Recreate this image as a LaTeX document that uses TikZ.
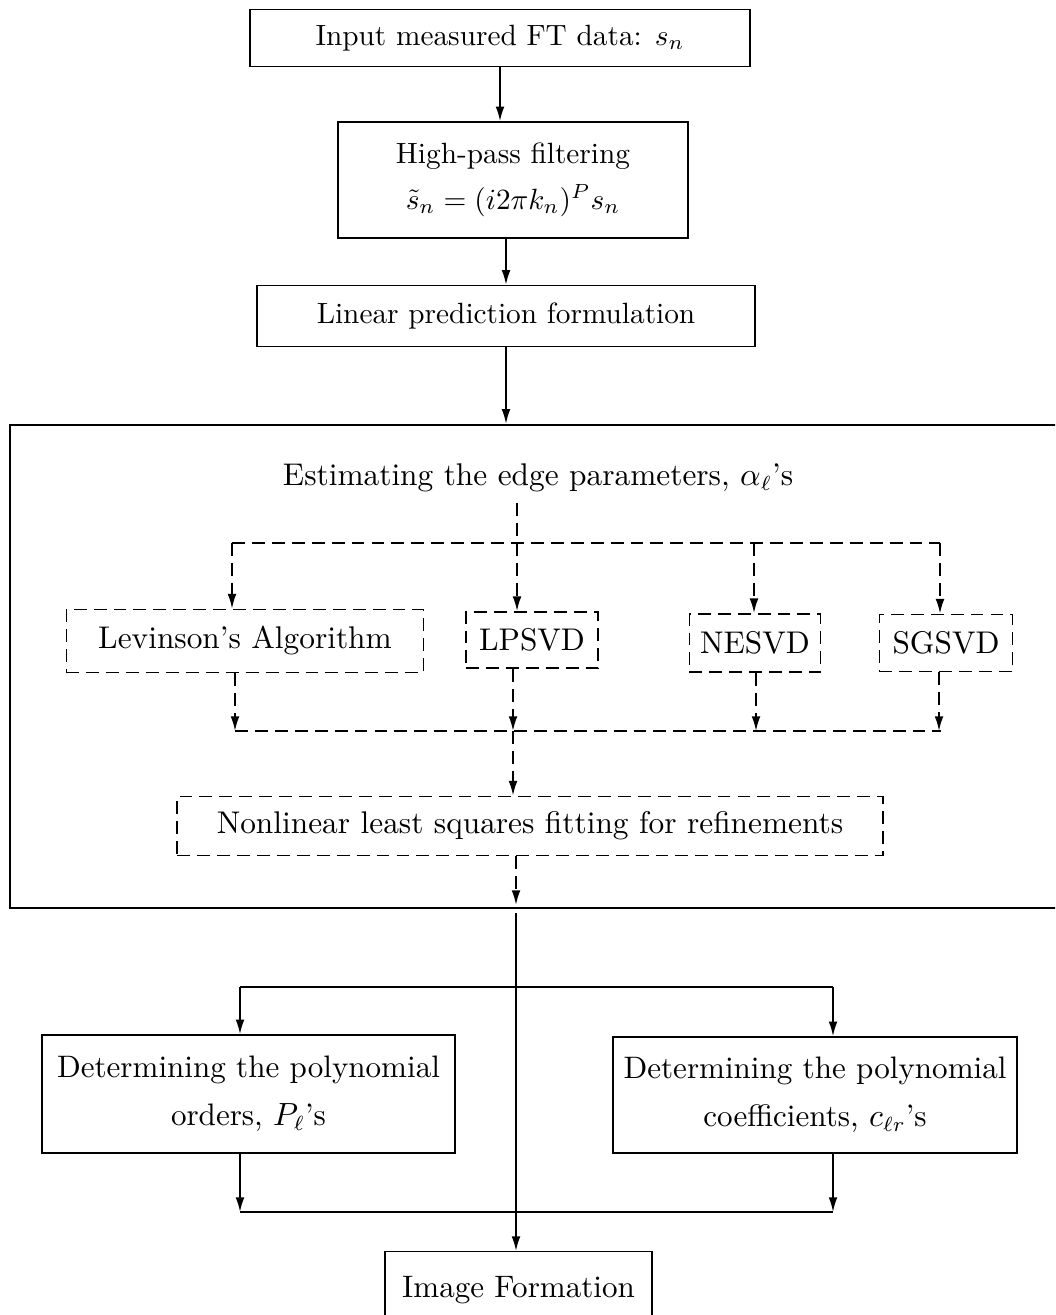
\documentclass[tikz,border=0pt]{standalone}
\usepackage{amsmath,amssymb}
\usetikzlibrary{arrows.meta}

\begin{document}
\begin{tikzpicture}[x=0.012cm,y=-0.012cm,>={Latex[length=5pt,width=3pt]},line width=.6pt,
  box/.style={draw,line width=.5pt,align=center,inner sep=0pt},
  dsh/.style={dash pattern=on 4.4pt off 2.4pt},
  inner/.style={font=\fontsize{10.7}{13}\selectfont},
  lower/.style={font=\fontsize{10.6}{13}\selectfont},
  dbox/.style={draw,dsh,line width=.6pt,inner sep=0pt,inner}]
\useasboundingbox (0,0) rectangle (1055,1315);\clip (0,0) rectangle (1055,1315);
\node[box,minimum width=6cm,minimum height=.684cm] (input) at (500,38) {Input measured FT data: $s_n$};
\node[box,minimum width=4.2cm,minimum height=1.392cm] (hpf) at (513,180) {High-pass filtering\\[3.5pt] $\tilde{s}_n=(i2\pi k_n)^P s_n$};
\node[box,minimum width=5.976cm,minimum height=.732cm] (lpf) at (506,316) {Linear prediction formulation};
\draw[->] (input.south) -- (input.south|-hpf.north);\draw[->] (hpf.south-|lpf) -- (lpf.north);
% estimation block
\node[draw,line width=.7pt,minimum width=12.624cm,minimum height=5.796cm] (est) at (536,666.5) {};
\draw[->] (lpf.south) -- (lpf.south|-est.north);
\node[inner] (estlbl) at (538,478) {Estimating the edge parameters, $\alpha_\ell$'s};
\node[dbox,minimum width=4.284cm,minimum height=.756cm] (levin) at (245,641) {Levinson's Algorithm};
\node[dbox,minimum width=1.584cm,minimum height=.672cm] (lpsvd) at (532,640) {LPSVD};
\node[dbox,minimum width=1.572cm,minimum height=.696cm] (nesvd) at (755,643) {NESVD};
\node[dbox,minimum width=1.596cm,minimum height=.684cm] (sgsvd) at (946,643) {SGSVD};
\node[dbox,minimum width=8.46cm,minimum height=.708cm] (nonlin) at (530,826) {Nonlinear least squares fitting for refinements};
\coordinate (split) at (517,543);\coordinate (s1) at (232,543);\coordinate (s4) at (940,543);
\coordinate (merge) at (513,731);\coordinate (m1) at (235,731);\coordinate (m4) at (941,731);
\draw[dsh] (estlbl.south-|split) -- (split);\draw[dsh] (s1) -- (s4);\draw[dsh] (m1) -- (m4);
\foreach \n/\xi/\xo in {levin/232/235,lpsvd/517/513,nesvd/754/756,sgsvd/940/939}{
  \coordinate (in) at (\xi,543);\coordinate (out) at (\xo,731);
  \draw[dsh,->] (in) -- (in|-\n.north);\draw[dsh,->] (out|-\n.south) -- (out);}
\draw[dsh,->] (merge) -- (merge|-nonlin.north);
\coordinate (nl) at (516,905);\draw[dsh,->] (nonlin.south-|nl) -- (nl);
% polynomial part
\node[box,lower,minimum width=4.956cm,minimum height=1.416cm] (polyord) at (248.5,1094) {Determining the polynomial\\[3.5pt] orders, $P_\ell$'s};
\node[box,lower,minimum width=4.848cm,minimum height=1.392cm] (polycoef) at (815,1095) {Determining the polynomial\\[3.5pt] coefficients, $c_{\ell r}$'s};
\node[box,lower,anchor=north,minimum width=3.204cm,inner ysep=8.5pt] (img) at (518.5,1251) {Image Formation};
\coordinate (trunk) at (516,913);\draw[->] (trunk) -- (trunk|-img.north);
\coordinate (b1) at (240,987);\coordinate (b2) at (833,987);\coordinate (j1) at (240,1212);\coordinate (j2) at (833,1212);
\draw (b1) -- (b2);\draw (j1) -- (j2);
\draw[->] (b1) -- (b1|-polyord.north);\draw[->] (b2) -- (b2|-polycoef.north);
\draw[->] (polyord.south-|j1) -- (j1);\draw[->] (polycoef.south-|j2) -- (j2);
\end{tikzpicture}
\end{document}
